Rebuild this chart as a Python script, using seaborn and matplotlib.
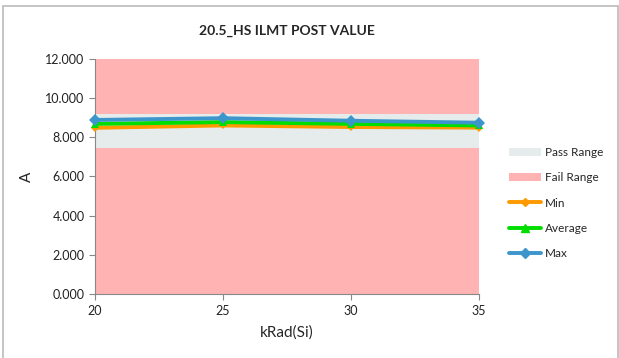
import matplotlib
matplotlib.use("Agg")
import matplotlib.pyplot as plt
import seaborn as sns
import pandas as pd
from matplotlib.patches import Rectangle, Patch
from matplotlib.lines import Line2D

krad = [20, 25, 30, 35]
min_vals = [8.48, 8.60, 8.52, 8.49]
avg_vals = [8.68, 8.77, 8.68, 8.60]
max_vals = [8.88, 8.97, 8.84, 8.74]
pass_low = 7.47
pass_high = 9.18
y_ticks = [0, 2, 4, 6, 8, 10, 12]
title = "20.5_HS ILMT POST VALUE"

sns.set_theme(style="white")
plt.rcParams['font.family'] = ['Lato', 'DejaVu Sans']

df = pd.DataFrame({"kRad": krad * 3,
                   "value": min_vals + avg_vals + max_vals,
                   "series": ["Min"] * 4 + ["Average"] * 4 + ["Max"] * 4})

fig = plt.figure(figsize=(6.19, 3.58), dpi=100)
ax = fig.add_axes([0.1535, 0.178, 0.62, 0.658])

fail_c = "#FFB3B3"
pass_c = "#E6EBEB"
ax.axhspan(0, 12, color=fail_c, zorder=0, lw=0)
ax.axhspan(pass_low, pass_high, color=pass_c, zorder=0.5, lw=0)

colors = {"Min": "#FF9900", "Average": "#00DD00", "Max": "#3C96CC"}
markers = {"Min": "D", "Average": "^", "Max": "D"}
msizes = {"Min": 4, "Average": 6, "Max": 6}
for s in ["Min", "Average", "Max"]:
    sub = df[df.series == s]
    sns.lineplot(data=sub, x="kRad", y="value", ax=ax, color=colors[s],
                 lw=2.8, marker=markers[s], markersize=msizes[s],
                 markeredgewidth=0, zorder=3, legend=False, clip_on=False)

ax.set_xlim(20, 35)
ax.set_ylim(0, 12)
ax.set_xticks(krad)
ax.set_yticks(y_ticks)
ax.set_yticklabels([f"{v:.3f}" for v in y_ticks])
ax.tick_params(axis="both", labelsize=9, colors="#222222", length=4,
               direction="out", width=0.8, color="#888888", bottom=True, left=True)
for sp in ["top", "right"]:
    ax.spines[sp].set_visible(False)
for sp in ["left", "bottom"]:
    ax.spines[sp].set_color("#888888")
    ax.spines[sp].set_linewidth(0.8)
ax.set_xlabel("kRad(Si)", fontsize=11, labelpad=6)
ax.set_ylabel("A", fontsize=11, labelpad=8)
ax.set_title(title, fontsize=10, fontweight="bold", pad=17)

handles = [Patch(facecolor=pass_c, edgecolor="none", label="Pass Range"),
           Patch(facecolor=fail_c, edgecolor="none", label="Fail Range"),
           Line2D([0], [0], color=colors["Min"], lw=2.8, marker="D", markersize=4, label="Min"),
           Line2D([0], [0], color=colors["Average"], lw=2.8, marker="^", markersize=6, label="Average"),
           Line2D([0], [0], color=colors["Max"], lw=2.8, marker="D", markersize=5, label="Max")]
fig.legend(handles=handles, loc="upper left", bbox_to_anchor=(0.815, 0.602),
           frameon=False, fontsize=8.5, handlelength=2.7, labelspacing=1.2,
           handletextpad=0.3, borderaxespad=0)

fig.patches.append(Rectangle((0.005, -0.1), 0.993, 1.083, transform=fig.transFigure,
                             fill=False, edgecolor="#BBBBBB", lw=1.2))

fig.savefig("out.png", dpi=100)
